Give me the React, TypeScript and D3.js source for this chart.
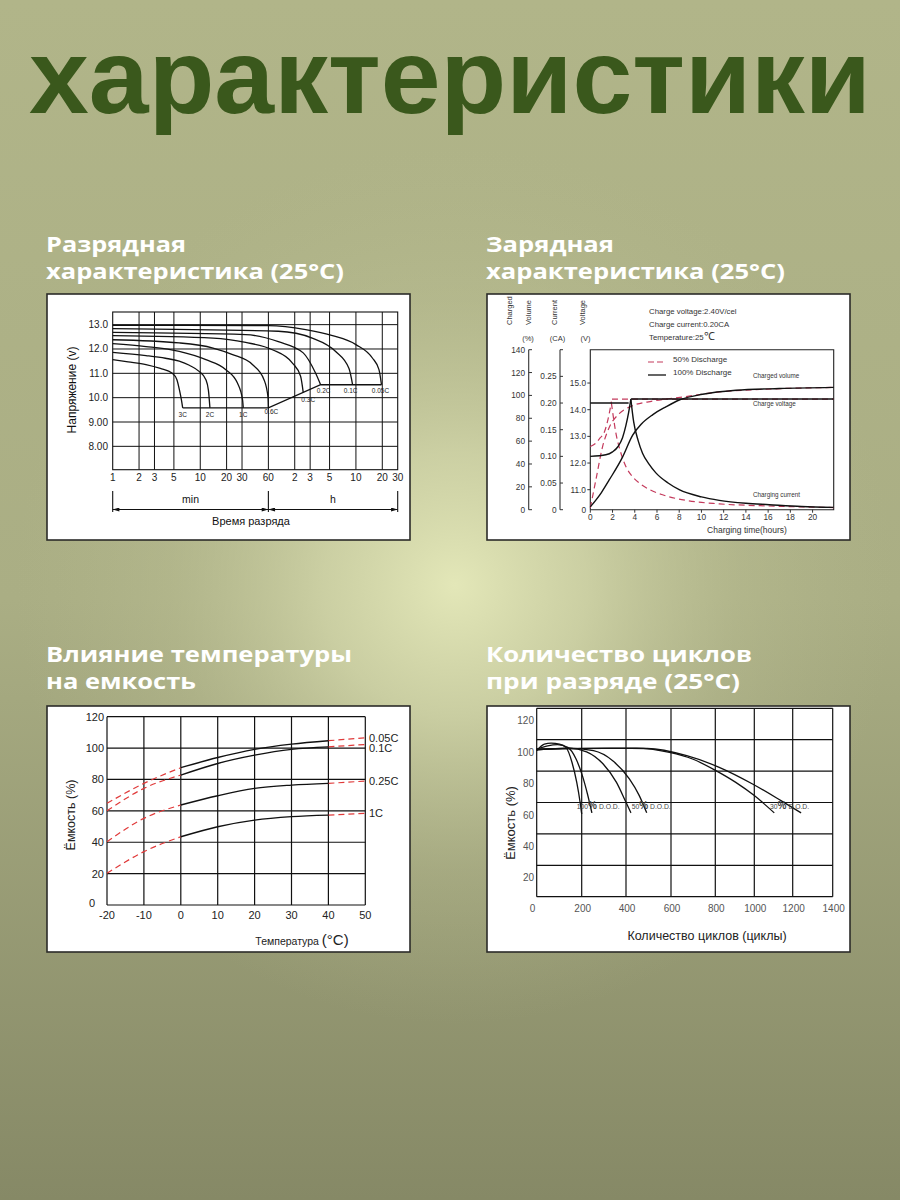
import * as d3 from "d3";

type Pt = [number, number];

const FONT = "'Liberation Sans', Arial, sans-serif";

// ---- texts
const TITLE = "характеристики";
const SUB_DISCHARGE = ["Разрядная", "характеристика (25°C)"];
const SUB_CHARGE = ["Зарядная", "характеристика (25°C)"];
const SUB_TEMP = ["Влияние температуры", "на емкость"];
const SUB_CYCLES = ["Количество циклов", "при разряде (25°C)"];

// ---- discharge chart (minutes, volts)
const DIS_TIME_TICKS = [1, 2, 3, 5, 10, 20, 30, 60, 120, 180, 300, 600, 1200, 1800];
const DIS_TIME_LABELS = ["1", "2", "3", "5", "10", "20", "30", "60", "2", "3", "5", "10", "20", "30"];
const DIS_VOLT_TICKS = [13, 12, 11, 10, 9, 8];
const DIS_VOLT_LABELS = ["13.0", "12.0", "11.0", "10.0", "9.00", "8.00"];
const DIS_RATES = ["3C", "2C", "1C", "0.6C", "0.3C", "0.2C", "0.1C", "0.05C"];
const DIS_CURVES: Pt[][] = [
  [[1, 11.56], [1.5, 11.47], [2.4, 11.36], [3.5, 11.2], [4.8, 11.0], [5.4, 10.75], [5.8, 10.3], [6.1, 9.9], [6.3, 9.58]],
  [[1, 11.86], [2.4, 11.73], [4, 11.62], [5.75, 11.5], [7.5, 11.33], [9.7, 11.08], [11.6, 10.74], [12.4, 10.3], [12.9, 9.58]],
  [[1, 12.22], [2.4, 12.1], [5.75, 11.9], [11.6, 11.56], [19.6, 11.15], [26.6, 10.6], [30.4, 9.92], [31, 9.58]],
  [[1, 12.38], [5.75, 12.25], [14, 12.04], [23.4, 11.77], [39.4, 11.36], [53.5, 10.74], [59.5, 10.0], [60, 9.58]],
  [[1, 12.55], [14, 12.45], [33, 12.27], [66.6, 11.97], [113, 11.42], [140, 10.88], [150, 10.22]],
  [[1, 12.68], [33, 12.59], [78, 12.3], [150, 11.84], [208, 11.0], [237, 10.53]],
  [[1, 12.84], [78, 12.73], [190, 12.45], [352, 11.9], [500, 11.2], [550, 10.53]],
  [[1, 12.97], [60, 12.96], [160, 12.8], [324, 12.55], [600, 12.18], [925, 11.63], [1100, 11.15], [1175, 10.53]],
];
const DIS_END_LINE: Pt[] = [[6.3, 9.58], [60, 9.58], [237, 10.53], [1175, 10.53]];

// ---- charge chart (hours)
const CHG_TIME_TICKS = [0, 2, 4, 6, 8, 10, 12, 14, 16, 18, 20];
const CHG_VOLUME_TICKS = [0, 20, 40, 60, 80, 100, 120, 140];
const CHG_CURRENT_TICKS = [0, 0.05, 0.1, 0.15, 0.2, 0.25];
const CHG_CURRENT_LABELS = ["0", "0.05", "0.10", "0.15", "0.20", "0.25"];
const CHG_VOLT_TICKS = [11, 12, 13, 14, 15];
const FULL_VOLT_RISE: Pt[] = [[0, 12.25], [1.4, 12.31], [2.0, 12.42], [2.5, 12.62], [2.9, 12.95], [3.2, 13.4], [3.45, 13.9], [3.65, 14.4]];
const FULL_VOLT_HOLD: Pt[] = [[3.65, 14.4], [21.9, 14.4]];
const FULL_CURR_HOLD: Pt[] = [[0, 0.2], [3.45, 0.2]];
const FULL_CURR_DECAY: Pt[] = [[3.65, 0.207], [3.9, 0.165], [4.3, 0.13], [4.7, 0.106], [5.3, 0.085], [5.9, 0.069], [7, 0.05], [8, 0.0375], [10, 0.024], [11.6, 0.0175], [14, 0.012], [16.1, 0.0094], [19, 0.006], [21.9, 0.0044]];
const FULL_VOLUME: Pt[] = [[0, 2.5], [1, 15], [1.7, 26], [2.9, 46], [3.8, 65], [4.6, 75], [5.6, 83], [6.8, 90], [8, 96], [10.1, 101], [13.1, 104.5], [17, 106], [21.9, 107]];
const HALF_VOLT_RISE: Pt[] = [[0, 12.62], [0.5, 12.75], [0.9, 12.95], [1.2, 13.1], [1.45, 13.4], [1.7, 13.85], [1.9, 14.3]];
const HALF_VOLT_HOLD: Pt[] = [[1.95, 14.4], [21.9, 14.4]];
const HALF_CURR_DECAY: Pt[] = [[1.9, 0.2], [2.1, 0.17], [2.3, 0.144], [2.7, 0.11], [3.2, 0.081], [3.8, 0.062], [4.4, 0.05], [5.4, 0.037], [6.5, 0.028], [8.6, 0.0175], [11.6, 0.011], [16, 0.007], [21.9, 0.004]];
const HALF_VOLUME: Pt[] = [[0, 1.5], [0.5, 26], [1.1, 55], [1.7, 72], [2.6, 84], [3.8, 91], [5.6, 95], [8.6, 99], [11.6, 103], [16, 105.5], [21.9, 107]];

// ---- temperature chart (°C, %)
const TEMP_TICKS = [-20, -10, 0, 10, 20, 30, 40, 50];
const TEMP_CAP_TICKS = [0, 20, 40, 60, 80, 100, 120];
const TEMP_RATES = ["0.05C", "0.1C", "0.25C", "1C"];
const TEMP_COLD: Pt[][] = [
  [[-20, 64.8], [-10, 77.5], [0, 87.5]],
  [[-20, 60], [-10, 74.3], [0, 82.8]],
  [[-20, 40.3], [-10, 55.2], [0, 63.7]],
  [[-20, 20.2], [-10, 34], [0, 43.5]],
];
const TEMP_MID: Pt[][] = [
  [[0, 87.5], [10, 94], [20, 99.2], [30, 102.5], [40, 104.7]],
  [[0, 82.8], [10, 90.2], [20, 95.5], [30, 99.2], [40, 100.8]],
  [[0, 63.7], [10, 69.6], [20, 74.3], [30, 76.4], [40, 77.5]],
  [[0, 43.5], [10, 49.9], [20, 54.1], [30, 56.3], [40, 57.3]],
];
const TEMP_WARM: Pt[][] = [
  [[40, 104.7], [50, 106.6]],
  [[40, 100.8], [50, 102.3]],
  [[40, 77.5], [50, 79]],
  [[40, 57.3], [50, 58.4]],
];

// ---- cycle life chart (cycles, %)
const CYC_TICKS = [0, 200, 400, 600, 800, 1000, 1200, 1400];
const CYC_CAP_TICKS = [0, 20, 40, 60, 80, 100, 120];
const CYC_DOD = ["100", "50", "30"];
const CYC_CURVES: Pt[][] = [
  [[0, 101], [34, 105.2], [64, 105.8], [101, 105.2], [130, 103.1], [157, 93.5], [178, 80.8], [193, 68.1], [200, 60.7]],
  [[0, 102], [49, 104.1], [93, 104.8], [138, 103.1], [175, 95.7], [203, 85.1], [226, 73.4], [246, 61.4]],
  [[0, 101.6], [145, 102.6], [222, 100.3], [297, 92.5], [357, 80.8], [400, 68.1], [422, 61.4]],
  [[0, 101.6], [145, 102.6], [253, 101], [340, 94.6], [415, 83], [459, 72.4], [492, 61.4]],
  [[0, 102], [200, 102.5], [445, 102.6], [593, 99.9], [697, 95.7], [803, 88.3], [905, 80.8], [1000, 72.4], [1104, 61.4]],
  [[0, 102], [300, 102.5], [494, 102.4], [671, 97.8], [820, 90.4], [991, 79.8], [1139, 69.2], [1242, 61.4]],
];
const CYC_DOD_AT = [178, 425, 1082];

const mk = (xs: any, ys: any, curve = d3.curveMonotoneX) =>
  d3.line<Pt>().x((d) => xs(d[0])).y((d) => ys(d[1])).curve(curve);

function Panel({ x, y }: { x: number; y: number }) {
  return <rect x={x} y={y} width={363} height={246} fill="#fff" stroke="#2b2b28" strokeWidth={1.6} />;
}

function Discharge() {
  const x = d3.scaleLog().domain([1, 1800]).range([112.7, 397.7]);
  const y = d3.scaleLinear().domain([7.04, 13.52]).range([469.7, 312]);
  const line = mk(x, y);
  const straight = mk(x, y, d3.curveLinear);
  const nudge: Pt[] = [[0, 9], [0, 9], [0, 9], [3, 6], [5, 10], [3, 8.5], [-2, 8.5], [-1, 8.5]];
  const [x0, x1] = x.range();
  const [y0, y1] = y.range();
  return (
    <g fontFamily={FONT}>
      <Panel x={47} y={294} />
      {DIS_TIME_TICKS.slice(1, -1).map((t) => (
        <line key={t} x1={x(t)} x2={x(t)} y1={y1} y2={y0} stroke="#111" strokeWidth={1} />
      ))}
      {DIS_VOLT_TICKS.map((v) => (
        <line key={v} x1={x0} x2={x1} y1={y(v)} y2={y(v)} stroke="#111" strokeWidth={1} />
      ))}
      <rect x={x0} y={y1} width={x1 - x0} height={y0 - y1} fill="none" stroke="#111" strokeWidth={1.1} />
      {DIS_CURVES.map((c, i) => (
        <path key={i} d={line(c) || ""} fill="none" stroke="#111" strokeWidth={1.3} />
      ))}
      <path d={straight(DIS_END_LINE) || ""} fill="none" stroke="#111" strokeWidth={1.3} />
      {DIS_RATES.map((r, i) => {
        const e = DIS_CURVES[i][DIS_CURVES[i].length - 1];
        return (
          <text key={r} x={x(e[0]) + nudge[i][0]} y={y(e[1]) + nudge[i][1]} fontSize={6.5} textAnchor="middle" fill="#222">
            {r}
          </text>
        );
      })}
      {DIS_VOLT_TICKS.map((v, i) => (
        <text key={v} x={108} y={y(v) + 3.5} fontSize={10} textAnchor="end" fill="#222">
          {DIS_VOLT_LABELS[i]}
        </text>
      ))}
      {DIS_TIME_TICKS.map((t, i) => (
        <text key={t} x={x(t)} y={481} fontSize={10} textAnchor="middle" fill="#222">
          {DIS_TIME_LABELS[i]}
        </text>
      ))}
      <text transform={`translate(76,390) rotate(-90)`} fontSize={12} textAnchor="middle" fill="#111">
        Напряжение (v)
      </text>
      {[1, 60, 1800].map((t) => (
        <line key={t} x1={x(t)} x2={x(t)} y1={491} y2={512} stroke="#111" strokeWidth={1.1} />
      ))}
      <line x1={x(1)} x2={x(60)} y1={509.5} y2={509.5} stroke="#111" strokeWidth={1} markerStart="url(#arr)" markerEnd="url(#arr)" />
      <line x1={x(60)} x2={x(1800)} y1={509.5} y2={509.5} stroke="#111" strokeWidth={1} markerStart="url(#arr)" markerEnd="url(#arr)" />
      <text x={(x(1) + x(60)) / 2} y={503} fontSize={10.5} textAnchor="middle" fill="#111">min</text>
      <text x={(x(60) + x(1800)) / 2} y={503} fontSize={10.5} textAnchor="middle" fill="#111">h</text>
      <text x={251} y={525} fontSize={11} textAnchor="middle" fill="#111">Время разряда</text>
    </g>
  );
}

function Charge() {
  const x = d3.scaleLinear().domain([0, 21.9]).range([590.3, 833.7]);
  const yVol = d3.scaleLinear().domain([0, 140]).range([509.7, 349.7]);
  const yCur = d3.scaleLinear().domain([0, 0.3]).range([509.7, 349.7]);
  const yV = d3.scaleLinear().domain([10.25, 16.25]).range([509.7, 349.7]);
  const vol = mk(x, yVol);
  const cur = mk(x, yCur);
  const cur0 = mk(x, yCur, d3.curveLinear);
  const volt = mk(x, yV);
  const volt0 = mk(x, yV, d3.curveLinear);
  const red = "#c43a5c";
  const dash = "6 4";
  const [px0, px1] = x.range();
  const [py0, py1] = yV.range();
  return (
    <g fontFamily={FONT} fill="#333">
      <Panel x={487} y={294} />
      {/* left axes */}
      <line x1={528.7} x2={528.7} y1={py1} y2={py0} stroke="#333" strokeWidth={1.1} />
      {CHG_VOLUME_TICKS.map((v) => (
        <g key={v}>
          <line x1={528.7} x2={532} y1={yVol(v)} y2={yVol(v)} stroke="#333" />
          <text x={525} y={yVol(v) + 3} fontSize={8.3} textAnchor="end">{v}</text>
        </g>
      ))}
      <line x1={560} x2={560} y1={py1} y2={py0} stroke="#333" strokeWidth={1.1} />
      <line x1={560} x2={563} y1={py1} y2={py1} stroke="#333" />
      {CHG_CURRENT_TICKS.map((v, i) => (
        <g key={v}>
          <line x1={560} x2={563} y1={yCur(v)} y2={yCur(v)} stroke="#333" />
          <text x={556.5} y={yCur(v) + 3} fontSize={8.3} textAnchor="end">{CHG_CURRENT_LABELS[i]}</text>
        </g>
      ))}
      {CHG_VOLT_TICKS.map((v) => (
        <g key={v}>
          <line x1={px0 - 3} x2={px0} y1={yV(v)} y2={yV(v)} stroke="#333" />
          <text x={586} y={yV(v) + 3} fontSize={8.3} textAnchor="end">{v.toFixed(1)}</text>
        </g>
      ))}
      <text x={586} y={yV(10.25) + 3} fontSize={8.3} textAnchor="end">0</text>
      {/* plot frame */}
      <path d={`M${px0},${py0}V${py1}H${px1}V${py0}H${px0}`} fill="none" stroke="#222" strokeWidth={1.1} />
      {CHG_TIME_TICKS.map((t) => (
        <g key={t}>
          <line x1={x(t)} x2={x(t)} y1={py0} y2={py0 + 3} stroke="#333" />
          <text x={x(t)} y={520} fontSize={8.3} textAnchor="middle">{t}</text>
        </g>
      ))}
      {/* headers */}
      {[["Charged", 511.5], ["Volume", 531], ["Current", 557], ["Voltage", 584.5]].map(([s, cx]) => (
        <text key={s as string} transform={`translate(${cx},325) rotate(-90)`} fontSize={7.5}>{s}</text>
      ))}
      <text x={528} y={341} fontSize={7.5} textAnchor="middle">(%)</text>
      <text x={557.5} y={341} fontSize={7.5} textAnchor="middle">(CA)</text>
      <text x={585.5} y={341} fontSize={7.5} textAnchor="middle">(V)</text>
      <text x={649} y={314} fontSize={7.8}>Charge voltage:2.40V/cel</text>
      <text x={649} y={327} fontSize={7.8}>Charge current:0.20CA</text>
      <text x={649} y={340} fontSize={7.8}>Temperature:25<tspan fontSize={11}>℃</tspan></text>
      {/* legend */}
      <line x1={648} x2={666} y1={362} y2={362} stroke={red} strokeWidth={1.2} strokeDasharray="6 3" />
      <text x={673} y={362} fontSize={8}>50% Discharge</text>
      <line x1={648} x2={666} y1={375} y2={375} stroke="#111" strokeWidth={1.3} />
      <text x={673} y={375} fontSize={8}>100% Discharge</text>
      {/* red: 50% discharge */}
      <g fill="none" stroke={red} strokeWidth={1.2} strokeDasharray={dash}>
        <path d={vol(HALF_VOLUME) || ""} />
        <path d={volt(HALF_VOLT_RISE) || ""} />
        <path d={volt0(HALF_VOLT_HOLD) || ""} />
        <path d={cur(HALF_CURR_DECAY) || ""} />
      </g>
      {/* black: 100% discharge */}
      <g fill="none" stroke="#111" strokeWidth={1.4}>
        <path d={vol(FULL_VOLUME) || ""} />
        <path d={volt(FULL_VOLT_RISE) || ""} />
        <path d={volt0(FULL_VOLT_HOLD) || ""} />
        <path d={cur0(FULL_CURR_HOLD) || ""} />
        <path d={cur(FULL_CURR_DECAY) || ""} />
      </g>
      <text x={753} y={378} fontSize={6.3}>Charged volume</text>
      <text x={753} y={406} fontSize={6.3}>Charge voltage</text>
      <text x={753} y={497} fontSize={6.3}>Charging current</text>
      <text x={747} y={533} fontSize={8.5} textAnchor="middle">Charging time(hours)</text>
    </g>
  );
}

function Temperature() {
  const x = d3.scaleLinear().domain([-20, 50]).range([107, 365.3]);
  const y = d3.scaleLinear().domain([0, 120]).range([905, 716.7]);
  const line = mk(x, y);
  const red = "#e03a3a";
  const [x0, x1] = x.range();
  const [y0, y1] = y.range();
  return (
    <g fontFamily={FONT} fill="#222">
      <Panel x={47} y={706} />
      {TEMP_TICKS.map((t) => (
        <line key={t} x1={x(t)} x2={x(t)} y1={y1} y2={y0} stroke="#111" strokeWidth={1.2} />
      ))}
      {TEMP_CAP_TICKS.map((v) => (
        <line key={v} x1={x0} x2={x1} y1={y(v)} y2={y(v)} stroke="#111" strokeWidth={1.2} />
      ))}
      <g fill="none" stroke={red} strokeWidth={1.2} strokeDasharray="6 4">
        {TEMP_COLD.map((c, i) => <path key={i} d={line(c) || ""} />)}
        {TEMP_WARM.map((c, i) => <path key={i} d={line(c) || ""} />)}
      </g>
      <g fill="none" stroke="#111" strokeWidth={1.4}>
        {TEMP_MID.map((c, i) => <path key={i} d={line(c) || ""} />)}
      </g>
      {TEMP_RATES.map((r, i) => {
        const e = TEMP_WARM[i][1];
        return (
          <text key={r} x={369} y={y(e[1]) + (i === 1 ? 7.5 : 4)} fontSize={11}>{r}</text>
        );
      })}
      {TEMP_CAP_TICKS.filter((v) => v > 0).map((v) => (
        <text key={v} x={104} y={y(v) + 4} fontSize={11} textAnchor="end">{v}</text>
      ))}
      <text x={95} y={y(0) + 2} fontSize={11} textAnchor="end">0</text>
      {TEMP_TICKS.map((t) => (
        <text key={t} x={x(t)} y={919} fontSize={11} textAnchor="middle">{t}</text>
      ))}
      <text transform="translate(75,815) rotate(-90)" fontSize={12.5} textAnchor="middle">Ёмкость (%)</text>
      <text x={302} y={945} fontSize={10.5} textAnchor="middle">
        Температура <tspan fontSize={15}>(°C)</tspan>
      </text>
    </g>
  );
}

function Cycles() {
  const x = d3.scaleLinear().domain(CYC_TICKS).range([536.7, 581.7, 626, 671, 715.3, 754.3, 792.7, 832.7]);
  // the printed grid sits 8 % above its own tick labels
  const y = d3.scaleLinear().domain([8, 128]).range([896.7, 708.3]);
  const line = mk(x, y);
  const [x0, x1] = [x(0), x(1400)];
  const [y0, y1] = y.range();
  return (
    <g fontFamily={FONT} fill="#555">
      <Panel x={487} y={706} />
      {CYC_TICKS.map((t) => (
        <line key={t} x1={x(t)} x2={x(t)} y1={y1} y2={y0} stroke="#111" strokeWidth={1.2} />
      ))}
      {CYC_CAP_TICKS.map((v) => (
        <line key={v} x1={x0} x2={x1} y1={y(v + 8)} y2={y(v + 8)} stroke="#111" strokeWidth={1.2} />
      ))}
      <g fill="none" stroke="#111" strokeWidth={1.3}>
        {CYC_CURVES.map((c, i) => <path key={i} d={line(c) || ""} />)}
      </g>
      {CYC_DOD.map((d, i) => (
        <text key={d} x={x(CYC_DOD_AT[i])} y={809} fontSize={6.8} fill="#444">
          {d}<tspan fontSize={10} fontWeight="bold">%</tspan> D.O.D.
        </text>
      ))}
      {CYC_CAP_TICKS.filter((v) => v > 0).map((v) => (
        <text key={v} x={534} y={y(v) + 3.5} fontSize={10} textAnchor="end">{v}</text>
      ))}
      <text x={532.5} y={912} fontSize={10} textAnchor="middle">0</text>
      {CYC_TICKS.filter((t) => t > 0).map((t) => (
        <text key={t} x={x(t) + 1} y={912} fontSize={10} textAnchor="middle">{t}</text>
      ))}
      <text transform="translate(515,823) rotate(-90)" fontSize={13} textAnchor="middle" fill="#222">Ёмкость (%)</text>
      <text x={707} y={940} fontSize={12.5} textAnchor="middle" fill="#222">Количество циклов (циклы)</text>
    </g>
  );
}

function Subtitle({ x, y, lines, widths }: { x: number; y: number; lines: string[]; widths: number[] }) {
  return (
    <g fontFamily="'Open Sans', Inter, sans-serif" fontWeight={700} fontSize={22} fill="#fff">
      {lines.map((s, i) => (
        <text key={i} x={x} y={y + i * 27.5} textLength={widths[i]} lengthAdjust="spacingAndGlyphs">{s}</text>
      ))}
    </g>
  );
}

export default function App() {
  return (
    <svg width={900} height={1200} viewBox="0 0 900 1200" style={{ position: "absolute", left: 0, top: 0, display: "block" }}>
      <defs>
        <linearGradient id="bgLin" x1="0" y1="0" x2="0" y2="1">
          <stop offset="0" stopColor="#b1b589" />
          <stop offset="0.5" stopColor="#aaae84" />
          <stop offset="1" stopColor="#868966" />
        </linearGradient>
        <radialGradient id="bgGlow" cx="455" cy="585" r="440" gradientUnits="userSpaceOnUse">
          <stop offset="0" stopColor="#e3e7b8" stopOpacity="1" />
          <stop offset="0.3" stopColor="#d6daad" stopOpacity="0.75" />
          <stop offset="0.65" stopColor="#c2c69a" stopOpacity="0.3" />
          <stop offset="1" stopColor="#b5b98e" stopOpacity="0" />
        </radialGradient>
        <marker id="arr" viewBox="0 0 10 6" refX="10" refY="3" markerWidth="10" markerHeight="4" markerUnits="userSpaceOnUse" orient="auto-start-reverse">
          <path d="M0,0L10,3L0,6z" fill="#111" />
        </marker>
      </defs>
      <rect width={900} height={1200} fill="url(#bgLin)" />
      <rect width={900} height={1200} fill="url(#bgGlow)" />
      <text x={450} y={113} textAnchor="middle" fontFamily="'Liberation Sans', Arial, sans-serif" fontWeight={700} fontSize={106} fill="#3a581c" textLength={842} lengthAdjust="spacingAndGlyphs">
        {TITLE}
      </text>
      <Subtitle x={46} y={251.5} lines={SUB_DISCHARGE} widths={[140, 298]} />
      <Subtitle x={486} y={251.5} lines={SUB_CHARGE} widths={[128, 299]} />
      <Subtitle x={46} y={661.5} lines={SUB_TEMP} widths={[306, 150]} />
      <Subtitle x={486} y={661.5} lines={SUB_CYCLES} widths={[266, 254]} />
      <Discharge />
      <Charge />
      <Temperature />
      <Cycles />
    </svg>
  );
}
